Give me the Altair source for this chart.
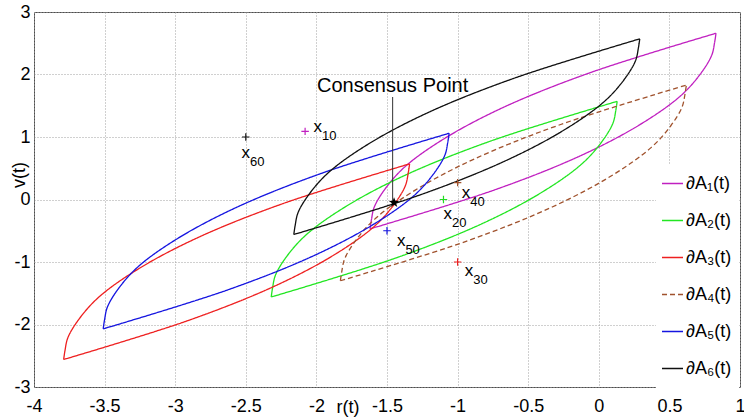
import altair as alt
import pandas as pd

FONT = "Liberation Sans"

series_names = ["∂A₁(t)", "∂A₂(t)", "∂A₃(t)", "∂A₄(t)", "∂A₅(t)", "∂A₆(t)"]
series_colors = ["#c020c0", "#22e622", "#ee2020", "#a0522d", "#1515e0", "#101010"]
series_dash = [[1, 0], [1, 0], [1, 0], [5, 3], [1, 0], [1, 0]]

# boundary arcs (r, v)
a1_upper_r = [-1.62, -1.61, -1.59, -1.51, -1.37, -1.09, -0.67, -0.06, 0.83]
a1_upper_v = [-0.47, -0.32, -0.12, 0.18, 0.53, 0.98, 1.48, 2.03, 2.66]
a1_lower_r = [-1.62, -0.73, -0.12, 0.30, 0.58, 0.72, 0.80, 0.82, 0.83]
a1_lower_v = [-0.47, 0.16, 0.71, 1.21, 1.66, 2.01, 2.31, 2.51, 2.66]

a2_upper_r = [-2.32, -2.31, -2.29, -2.21, -2.07, -1.79, -1.37, -0.76, 0.13]
a2_upper_v = [-1.56, -1.41, -1.21, -0.91, -0.56, -0.11, 0.39, 0.94, 1.57]
a2_lower_r = [-2.32, -1.43, -0.82, -0.40, -0.12, 0.02, 0.10, 0.12, 0.13]
a2_lower_v = [-1.56, -0.93, -0.38, 0.12, 0.57, 0.92, 1.22, 1.42, 1.57]

a3_upper_r = [-3.79, -3.78, -3.76, -3.68, -3.54, -3.26, -2.84, -2.23, -1.34]
a3_upper_v = [-2.56, -2.41, -2.21, -1.91, -1.56, -1.11, -0.61, -0.06, 0.57]
a3_lower_r = [-3.79, -2.90, -2.29, -1.87, -1.59, -1.45, -1.37, -1.35, -1.34]
a3_lower_v = [-2.56, -1.93, -1.38, -0.88, -0.43, -0.08, 0.22, 0.42, 0.57]

a4_upper_r = [-1.83, -1.82, -1.80, -1.72, -1.58, -1.30, -0.88, -0.27, 0.62]
a4_upper_v = [-1.30, -1.15, -0.95, -0.65, -0.30, 0.15, 0.65, 1.20, 1.83]
a4_lower_r = [-1.83, -0.94, -0.33, 0.09, 0.37, 0.51, 0.59, 0.61, 0.62]
a4_lower_v = [-1.30, -0.67, -0.12, 0.38, 0.83, 1.18, 1.48, 1.68, 1.83]

a5_upper_r = [-3.51, -3.50, -3.48, -3.40, -3.26, -2.98, -2.56, -1.95, -1.06]
a5_upper_v = [-2.07, -1.92, -1.72, -1.42, -1.07, -0.62, -0.12, 0.43, 1.06]
a5_lower_r = [-3.51, -2.62, -2.01, -1.59, -1.31, -1.17, -1.09, -1.07, -1.06]
a5_lower_v = [-2.07, -1.44, -0.89, -0.39, 0.06, 0.41, 0.71, 0.91, 1.06]

a6_upper_r = [-2.16, -2.15, -2.13, -2.05, -1.91, -1.63, -1.21, -0.60, 0.29]
a6_upper_v = [-0.56, -0.41, -0.21, 0.09, 0.44, 0.89, 1.39, 1.94, 2.57]
a6_lower_r = [-2.16, -1.27, -0.66, -0.24, 0.04, 0.18, 0.26, 0.28, 0.29]
a6_lower_v = [-0.56, 0.07, 0.62, 1.12, 1.57, 1.92, 2.22, 2.42, 2.57]

# initial points x10..x60
marker_r = [-2.08, -1.10, -1.00, -1.00, -1.50, -2.50]
marker_v = [1.09, 0.00, -1.00, 0.27, -0.50, 1.00]
marker_colors = ["#c020c0", "#22dd22", "#ee2020", "#a0522d", "#1515e0", "#101010"]
label_sub = ["10", "20", "30", "40", "50", "60"]
label_r = [-2.02, -1.10, -0.95, -0.97, -1.43, -2.53]
label_v = [1.08, -0.31, -1.23, 0.03, -0.75, 0.66]

consensus_r = [-1.45]
consensus_v = [-0.05]
consensus_text = ["Consensus Point"]
consensus_text_r = [-1.46]
consensus_text_v = [1.72]
pointer_top_v = [1.64]

x_ticks = [-4, -3.5, -3, -2.5, -2, -1.5, -1, -0.5, 0, 0.5, 1]
y_ticks = [-3, -2, -1, 0, 1, 2, 3]

STAR = ("M0,-1L0.235,-0.324L0.951,-0.309L0.38,0.124L0.588,0.809L0,0.4"
        "L-0.588,0.809L-0.38,0.124L-0.951,-0.309L-0.235,-0.324Z")
PLUS = "M-1,0L1,0M0,-1L0,1"

arcs = {
    0: [(a1_upper_r, a1_upper_v), (a1_lower_r, a1_lower_v)],
    1: [(a2_upper_r, a2_upper_v), (a2_lower_r, a2_lower_v)],
    2: [(a3_upper_r, a3_upper_v), (a3_lower_r, a3_lower_v)],
    3: [(a4_upper_r, a4_upper_v), (a4_lower_r, a4_lower_v)],
    4: [(a5_upper_r, a5_upper_v), (a5_lower_r, a5_lower_v)],
    5: [(a6_upper_r, a6_upper_v), (a6_lower_r, a6_lower_v)],
}
rows = []
for i, parts in arcs.items():
    for k, (rs, vs) in enumerate(parts):
        for j, (r, v) in enumerate(zip(rs, vs)):
            rows.append({"series": series_names[i], "key": f"{i}-{k}", "idx": j, "r": r, "v": v})
curves = pd.DataFrame(rows)

markers = pd.DataFrame({"r": marker_r, "v": marker_v, "c": marker_colors})
labels = pd.DataFrame({"r": label_r, "v": label_v, "sub": label_sub})
cons = pd.DataFrame({"r": consensus_r, "v": consensus_v})
cons_line = pd.DataFrame({"r": consensus_text_r, "v": consensus_v, "v2": pointer_top_v})
cons_text = pd.DataFrame({"r": consensus_text_r, "v": consensus_text_v, "t": consensus_text})

xscale = alt.Scale(domain=[-4, 1], nice=False, zero=False)
yscale = alt.Scale(domain=[-3, 3], nice=False, zero=False)

xaxis = alt.Axis(values=x_ticks, labelExpr="toString(datum.value)", title=None, ticks=False,
                 domain=False, labelFont=FONT, labelFontSize=18, labelColor="black",
                 labelPadding=10, grid=True, gridDash=[1, 2], gridColor="#a0a0a0",
                 labelFlush=False, labelOverlap=False, orient="bottom")
yaxis = alt.Axis(values=y_ticks, labelExpr="toString(datum.value)", title=None, ticks=False,
                 domain=False, labelFont=FONT, labelFontSize=18, labelColor="black",
                 labelPadding=4, grid=True, gridDash=[1, 2], gridColor="#a0a0a0",
                 labelFlush=False, labelOverlap=False, orient="left")

legend = alt.Legend(title=None, orient="none", legendX=627, legendY=160, symbolType="stroke",
                    symbolSize=441, symbolStrokeWidth=1.3, labelFont=FONT, labelFontSize=18,
                    labelColor="black", labelOffset=2, rowPadding=16, padding=0)

X = alt.X("r:Q", scale=xscale, axis=xaxis)
Y = alt.Y("v:Q", scale=yscale, axis=yaxis)

legend_bg = alt.Chart(pd.DataFrame({"a": [0]})).mark_rect(fill="white").encode(
    x=alt.value(622), x2=alt.value(705), y=alt.value(153), y2=alt.value(377)
)

lines = alt.Chart(curves).mark_line(strokeWidth=1.3, interpolate="catmull-rom").encode(
    x=X, y=Y,
    color=alt.Color("series:N", scale=alt.Scale(domain=series_names, range=series_colors), legend=legend),
    strokeDash=alt.StrokeDash("series:N", scale=alt.Scale(domain=series_names, range=series_dash), legend=legend),
    detail="key:N",
    order="idx:Q",
)

plus = alt.Chart(markers).mark_point(shape=PLUS, size=56, strokeWidth=1.2,
                                     filled=False, opacity=1).encode(
    x=X, y=Y, stroke=alt.Stroke("c:N", scale=None),
)

lab_x = alt.Chart(labels).mark_text(text="x", font=FONT, fontSize=17, align="left",
                                    baseline="alphabetic", color="black").encode(x=X, y=Y)
lab_sub = alt.Chart(labels).mark_text(font=FONT, fontSize=13, align="left", baseline="alphabetic",
                                      color="black", dx=8.5, dy=8).encode(x=X, y=Y, text="sub:N")

pointer = alt.Chart(cons_line).mark_rule(color="#333333", strokeWidth=1).encode(
    x=X, y=Y, y2="v2:Q")
star = alt.Chart(cons).mark_point(shape=STAR, filled=True, size=120, color="black", opacity=1).encode(
    x=X, y=Y)
ctext = alt.Chart(cons_text).mark_text(font=FONT, fontSize=20, align="center", baseline="alphabetic",
                                       color="black").encode(x=X, y=Y, text="t:N")

xtitle = alt.Chart(pd.DataFrame({"t": ["r(t)"]})).mark_text(font=FONT, fontSize=18, align="center",
                                                           baseline="alphabetic", color="black").encode(
    x=alt.value(314), y=alt.value(401), text="t:N")
ytitle = alt.Chart(pd.DataFrame({"t": ["v(t)"]})).mark_text(font=FONT, fontSize=18, align="center",
                                                           baseline="middle", angle=270, color="black").encode(
    x=alt.value(-14), y=alt.value(163), text="t:N")

chart = alt.layer(legend_bg, lines, plus, lab_x, lab_sub, pointer, star, ctext, xtitle, ytitle).properties(
    width=706, height=375,
    padding={"left": 34, "top": 12, "right": 4, "bottom": 30},
    autosize=alt.AutoSizeParams(type="none"),
    background="white",
).configure_view(stroke="#4d4d4d", strokeWidth=1)

chart.save("out.html", embed_options={"renderer": "svg", "actions": False})
